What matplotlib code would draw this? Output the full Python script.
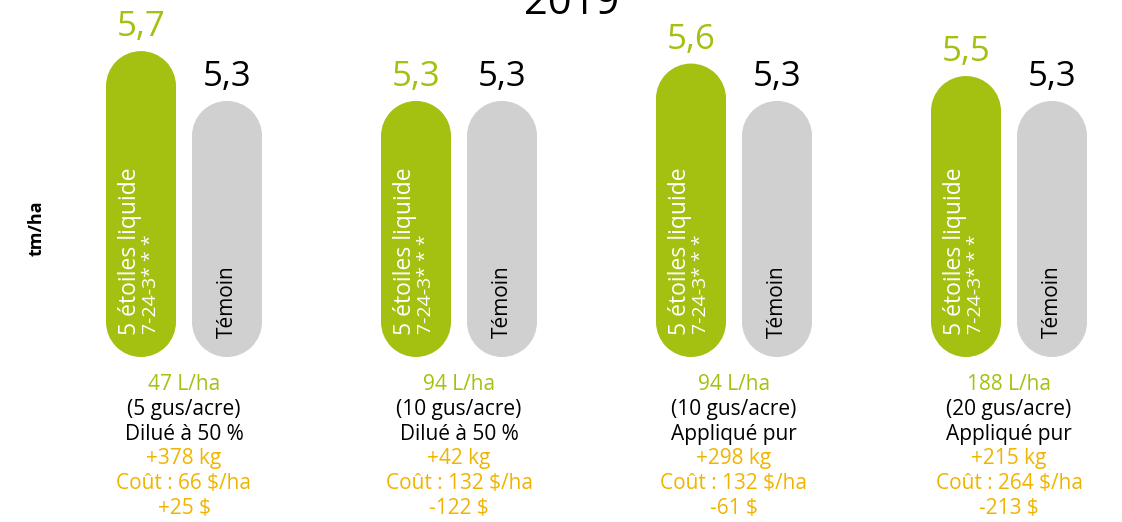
import numpy as np
import matplotlib.pyplot as plt
from matplotlib.patches import Rectangle, Ellipse

plt.rcParams['font.family'] = ['Open Sans', 'DejaVu Sans']

# data
produit = [5.7, 5.3, 5.6, 5.5]
temoin = [5.3, 5.3, 5.3, 5.3]
doses = ["47 L/ha", "94 L/ha", "94 L/ha", "188 L/ha"]
gus = ["(5 gus/acre)", "(10 gus/acre)", "(10 gus/acre)", "(20 gus/acre)"]
modes = ["Dilué à 50 %", "Dilué à 50 %", "Appliqué pur", "Appliqué pur"]
gains = ["+378 kg", "+42 kg", "+298 kg", "+215 kg"]
couts = ["Coût : 66 $/ha", "Coût : 132 $/ha", "Coût : 132 $/ha", "Coût : 264 $/ha"]
nets = ["+25 $", "-122 $", "-61 $", "-213 $"]

GREEN = "#a4c010"
GRAY = "#d0d0d0"
YELLOW = "#f0b400"

W, H = 1122, 522
fig = plt.figure(figsize=(W / 100, H / 100), dpi=100)
ax = fig.add_axes([0, (H - 357) / H, 1, 357 / H])

base = 3.245
px_y = 124.6   # px per unit y
px_x = 275.0   # px per unit x
ax.set_xlim(-184 / px_x, (W - 184) / px_x)
ax.set_ylim(base, base + 357 / px_y)
ax.axis('off')

x = np.arange(len(produit))
off = 43 / px_x
w = 70 / px_x
ry = 35 / px_y  # cap radius in y units


def pill_bars(xs, vals, color):
    for xc, v in zip(xs, vals):
        ax.add_patch(Rectangle((xc - w / 2, base + ry), w, v - base - 2 * ry,
                               facecolor=color, edgecolor='none'))
        ax.add_patch(Ellipse((xc, v - ry), w, 2 * ry, facecolor=color, edgecolor='none'))
        ax.add_patch(Ellipse((xc, base + ry), w, 2 * ry, facecolor=color, edgecolor='none'))


pill_bars(x - off, produit, GREEN)
pill_bars(x + off, temoin, GRAY)

for i in range(len(produit)):
    gx = x[i] - off
    tx = x[i] + off
    ax.annotate(f"{produit[i]:.1f}".replace('.', ','), (gx, produit[i]),
                xytext=(0, 5), textcoords='offset points', ha='center',
                va='bottom', fontsize=25, color=GREEN)
    ax.annotate(f"{temoin[i]:.1f}".replace('.', ','), (tx, temoin[i]),
                xytext=(0, 5), textcoords='offset points', ha='center',
                va='bottom', fontsize=25, color='black')
    ax.text(gx - 11 / px_x, base + 22 / px_y, "5 étoiles liquide", rotation=90,
            ha='center', va='bottom', fontsize=16.5, color='white')
    ax.text(gx + 10 / px_x, base + 23 / px_y, "7-24-3* * *", rotation=90,
            ha='center', va='bottom', fontsize=14, color='white')
    ax.text(tx, base + 19 / px_y, "Témoin", rotation=90,
            ha='center', va='bottom', fontsize=15, color='black')

    lines = [(doses[i], GREEN), (gus[i], 'black'), (modes[i], 'black'),
             (gains[i], YELLOW), (couts[i], YELLOW), (nets[i], YELLOW)]
    for j, (txt, col) in enumerate(lines):
        fig.text((184 + i * px_x) / W, 1 - (385 + j * 24.6) / H, txt,
                 ha='center', va='center', fontsize=15, color=col)

fig.text(572 / W, 1 - 14 / H, "2019", ha='center', va='baseline',
         fontsize=30, color='black')
fig.text(37 / W, 1 - 228 / H, "tm/ha", rotation=90, ha='center', va='center',
         fontsize=13, fontweight='bold', color='black')

fig.savefig("out.png", dpi=100)
